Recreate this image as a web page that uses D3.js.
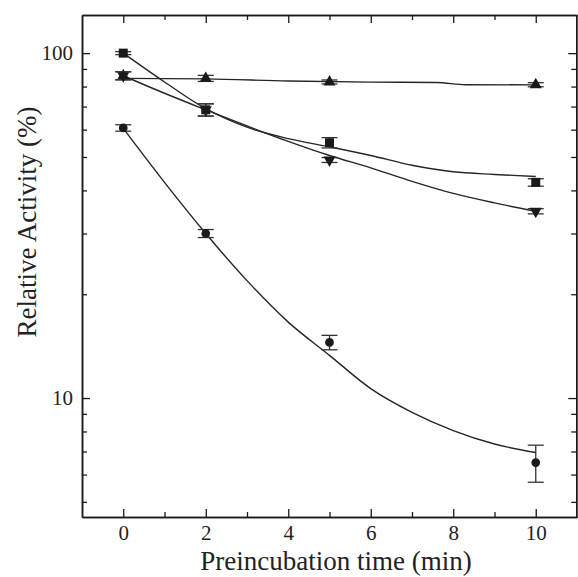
<!DOCTYPE html>
<html><head><meta charset="utf-8">
<script src="https://cdn.jsdelivr.net/npm/d3@7"></script>
<style>body{margin:0;background:#fff}svg{display:block}text{font-family:"Liberation Serif","Times New Roman",serif;fill:#222}</style>
</head><body><svg id="c" width="578" height="577"></svg>
<script>
// ---- data ----
const times = [0, 2, 5, 10];
const squareVals = [100, 68.5, 55, 42.2];
const squareErr = [1, 2.8, 1.9, 1.05];
const triUpVals = [86, 84.5, 82.5, 81];
const triUpErr = [2.3, 1.7, 1.1, 1.1];
const triDownVals = [86, 68.5, 49, 34.8];
const triDownErr = [2.3, 2.8, 0.8, 0.6];
const circleVals = [60.7, 30, 14.5, 6.5];
const circleErr = [1.3, 0.8, 0.7, 0.8];

const fitX = [0, 1, 2, 3, 4, 5, 6, 7, 8, 9, 10];
const squareFit = [100, 82.5, 69, 61, 56.5, 53.5, 50.5, 47.3, 45.3, 44.5, 43.9];
const triDownFit = [86, 76.5, 68.5, 61.5, 55.5, 50.5, 46.5, 42.5, 39.2, 36.8, 34.8];
const circleFit = [60.5, 42.2, 30, 21.9, 16.6, 13.3, 10.65, 9.09, 8.05, 7.36, 6.95];
const triUpFitX = [0, 2, 4, 6, 7.6, 8.3, 10];
const triUpFit = [84.5, 84.2, 83, 82.4, 82.2, 81, 80.9];

const xMajor = [0, 2, 4, 6, 8, 10];
const xMinor = [1, 3, 5, 7, 9];
const yMajor = [10, 100];
const yMinor = [5, 6, 7, 8, 9, 20, 30, 40, 50, 60, 70, 80, 90];
const xTitle = "Preincubation time (min)";
const yTitle = "Relative Activity (%)";

// ---- layout ----
const L = 82, R = 577, T = 15, B = 517;
const svg = d3.select("#c");
const x = d3.scaleLinear().domain([-1, 11]).range([L, R]);
const y = d3.scaleLog().domain([4.52, 129]).range([B, T]);
const ink = "#1a1a1a";

function axis(make, scale, transform, major, minor, labels, fmt, pad) {
  const g1 = svg.append("g").attr("transform", transform)
    .call(make(scale).tickValues(major).tickSizeInner(-8).tickSizeOuter(0).tickPadding(labels ? pad : 0)
      .tickFormat(labels ? fmt : () => ""));
  const g2 = svg.append("g").attr("transform", transform)
    .call(make(scale).tickValues(minor).tickSizeInner(-5).tickSizeOuter(0).tickFormat(() => ""));
  [g1, g2].forEach(g => {
    g.select(".domain").attr("stroke", ink).attr("stroke-width", 1.5);
    g.selectAll(".tick line").attr("stroke", ink).attr("stroke-width", 1.3);
    g.selectAll("text").attr("font-size", 21).attr("fill", "#222")
      .attr("font-family", '"Liberation Serif", serif');
  });
}
axis(d3.axisBottom, x, `translate(0,${B})`, xMajor, xMinor, true, d3.format("d"), 8);
axis(d3.axisTop, x, `translate(0,${T})`, xMajor, xMinor, false);
axis(d3.axisLeft, y, `translate(${L},0)`, yMajor, yMinor, true, d3.format("d"), 9);
axis(d3.axisRight, y, `translate(${R - 0.75},0)`, yMajor, yMinor, false);

// titles
svg.append("text").attr("x", 336).attr("y", 570).attr("text-anchor", "middle")
  .attr("font-size", 27).text(xTitle);
svg.append("text").attr("transform", `translate(36,222) rotate(-90)`)
  .attr("text-anchor", "middle").attr("font-size", 27).text(yTitle);

// fit curves
const line = d3.line().x(d => x(d[0])).y(d => y(d[1])).curve(d3.curveMonotoneX);
const fits = [
  [fitX, squareFit], [fitX, triDownFit], [fitX, circleFit], [triUpFitX, triUpFit]
];
fits.forEach(([xs, ys]) => {
  svg.append("path").datum(xs.map((v, i) => [v, ys[i]]))
    .attr("d", line).attr("fill", "none").attr("stroke", "#262626").attr("stroke-width", 1.4);
});

// error bars + markers
const series = [
  { vals: squareVals, err: squareErr, sym: d3.symbolSquare, size: 81, rot: 0 },
  { vals: triUpVals, err: triUpErr, sym: d3.symbolTriangle, size: 62, rot: 0 },
  { vals: triDownVals, err: triDownErr, sym: d3.symbolTriangle, size: 62, rot: 180 },
  { vals: circleVals, err: circleErr, sym: d3.symbolCircle, size: 60, rot: 0 }
];
const cap = 8;
series.forEach(s => {
  const g = svg.append("g");
  times.forEach((t, i) => {
    const cx = x(t), v = s.vals[i], e = s.err[i];
    const y1 = y(v + e), y2 = y(v - e);
    g.append("line").attr("x1", cx).attr("x2", cx).attr("y1", y1).attr("y2", y2)
      .attr("stroke", "#333").attr("stroke-width", 1.3);
    [y1, y2].forEach(yy => g.append("line").attr("x1", cx - cap).attr("x2", cx + cap)
      .attr("y1", yy).attr("y2", yy).attr("stroke", "#333").attr("stroke-width", 1.3));
    g.append("path").attr("d", d3.symbol(s.sym, s.size)())
      .attr("transform", `translate(${cx},${y(v)}) rotate(${s.rot})`)
      .attr("fill", ink);
  });
});
</script></body></html>
